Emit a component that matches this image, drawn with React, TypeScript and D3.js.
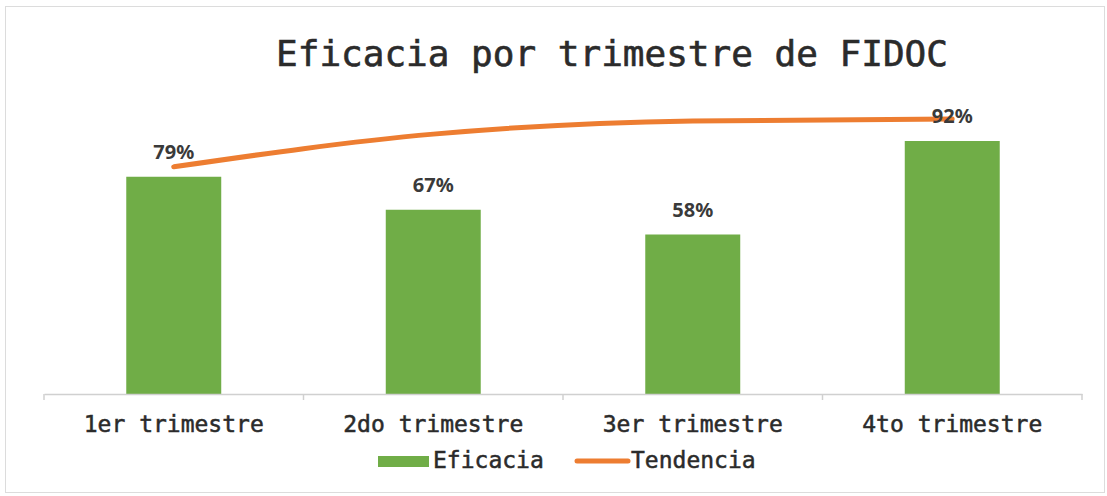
import React, { useRef, useEffect } from 'react';
import * as d3 from 'd3';

const categories = ['1er trimestre', '2do trimestre', '3er trimestre', '4to trimestre'];
const eficacia = [0.79, 0.67, 0.58, 0.92];
const tendencia = [0.826, 0.945, 0.993, 1.0];
const valueLabels = ['79%', '67%', '58%', '92%'];
const legendLabels = ['Eficacia', 'Tendencia'];
const title = 'Eficacia por trimestre de FIDOC';

const App = () => {
  const svgRef = useRef<SVGSVGElement>(null);

  const width = 1107;
  const height = 496;
  const mono = '"DejaVu Sans Mono", "Liberation Mono", monospace';
  const green = '#70ad47';
  const orange = '#ed7d31';
  const textColor = '#2b2b2b';

  useEffect(() => {
    const svg = d3.select(svgRef.current);
    svg.selectAll('*').remove(); // Clear previous content

    // chart border
    svg
      .append('rect')
      .attr('x', 5.5)
      .attr('y', 6.5)
      .attr('width', width - 8)
      .attr('height', height - 10)
      .attr('fill', '#ffffff')
      .attr('stroke', '#dcdcdc');

    const xScale = d3
      .scaleBand()
      .domain(categories)
      .range([44, 1082])
      .paddingInner(0.634)
      .paddingOuter(0.317);

    const yScale = d3.scaleLinear().domain([0, 1]).range([394, 119]);

    // Title
    svg
      .append('text')
      .attr('x', 612)
      .attr('y', 66)
      .attr('text-anchor', 'middle')
      .attr('font-family', mono)
      .attr('font-size', 36)
      .attr('fill', textColor)
      .attr('stroke', textColor)
      .attr('stroke-width', 0.6)
      .text(title);

    // Bars
    svg
      .selectAll('.bar')
      .data(eficacia)
      .enter()
      .append('rect')
      .attr('class', 'bar')
      .attr('x', (d, i) => xScale(categories[i]))
      .attr('y', d => yScale(d))
      .attr('width', xScale.bandwidth())
      .attr('height', d => yScale(0) - yScale(d))
      .attr('fill', green);

    // x-axis
    const axis = svg
      .append('g')
      .attr('transform', `translate(0, ${yScale(0)})`)
      .call(d3.axisBottom(xScale).tickSize(0).tickPadding(22));
    axis.select('.domain').attr('stroke', '#d0d0d0').attr('stroke-width', 1.5);
    axis
      .selectAll('text')
      .attr('font-family', mono)
      .attr('font-size', 23)
      .attr('fill', textColor)
      .attr('stroke', textColor)
      .attr('stroke-width', 0.5);

    // tick marks at band boundaries
    const step = xScale.step();
    const [r0] = xScale.range();
    d3.range(categories.length + 1).forEach(i => {
      svg
        .append('line')
        .attr('x1', r0 + i * step)
        .attr('x2', r0 + i * step)
        .attr('y1', yScale(0))
        .attr('y2', yScale(0) + 6)
        .attr('stroke', '#d0d0d0')
        .attr('stroke-width', 1.5);
    });

    // Trend line
    const line = d3
      .line<number>()
      .x((d, i) => (xScale(categories[i]) ?? 0) + xScale.bandwidth() / 2)
      .y(d => yScale(d))
      .curve(d3.curveMonotoneX);

    svg
      .append('path')
      .datum(tendencia)
      .attr('d', line)
      .attr('fill', 'none')
      .attr('stroke', orange)
      .attr('stroke-width', 5)
      .attr('stroke-linecap', 'round');

    // Value labels
    svg
      .selectAll('.label')
      .data(eficacia)
      .enter()
      .append('text')
      .attr('class', 'label')
      .attr('x', (d, i) => (xScale(categories[i]) ?? 0) + xScale.bandwidth() / 2)
      .attr('y', d => yScale(d) - 18)
      .attr('text-anchor', 'middle')
      .attr('font-family', '"Noto Sans", "Open Sans", sans-serif')
      .attr('font-weight', 'bold')
      .attr('font-size', 20)
      .attr('fill', '#3a3a3a')
      .text((d, i) => valueLabels[i]);

    // Legend
    const legend = svg.append('g');
    legend
      .append('rect')
      .attr('x', 378)
      .attr('y', 456)
      .attr('width', 51)
      .attr('height', 11)
      .attr('fill', green);
    legend
      .append('text')
      .attr('x', 433)
      .attr('y', 468)
      .attr('font-family', mono)
      .attr('font-size', 23)
      .attr('fill', textColor)
      .attr('stroke', textColor)
      .attr('stroke-width', 0.5)
      .text(legendLabels[0]);
    legend
      .append('line')
      .attr('x1', 577)
      .attr('x2', 628)
      .attr('y1', 461)
      .attr('y2', 461)
      .attr('stroke', orange)
      .attr('stroke-width', 5)
      .attr('stroke-linecap', 'round');
    legend
      .append('text')
      .attr('x', 631)
      .attr('y', 468)
      .attr('font-family', mono)
      .attr('font-size', 23)
      .attr('fill', textColor)
      .attr('stroke', textColor)
      .attr('stroke-width', 0.5)
      .text(legendLabels[1]);
  }, []);

  return (
    <svg
      ref={svgRef}
      width={width}
      height={height}
      style={{ position: 'fixed', top: 0, left: 0, background: '#ffffff' }}
    />
  );
};

export default App;
